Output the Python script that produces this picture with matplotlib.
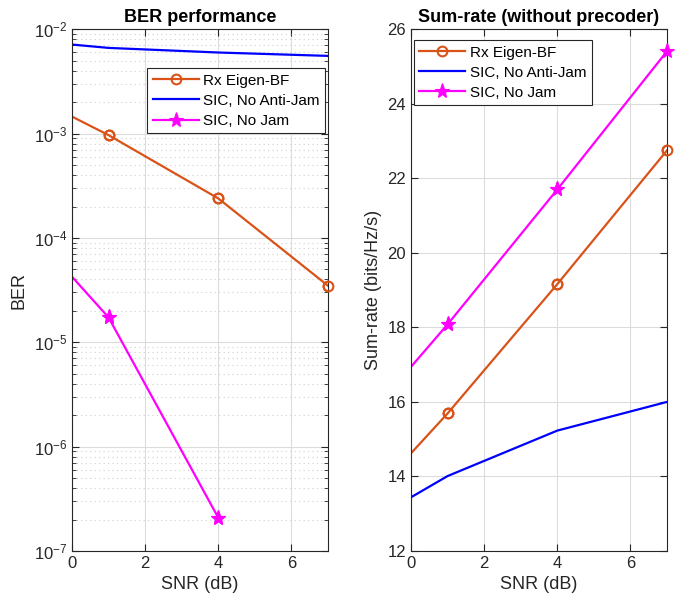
import numpy as np
import matplotlib
matplotlib.use("Agg")
import matplotlib.pyplot as plt

plt.rcParams['font.family'] = ['Liberation Sans', 'DejaVu Sans']
plt.rcParams['mathtext.fontset'] = 'custom'
plt.rcParams['mathtext.rm'] = 'Liberation Sans'
plt.rcParams['mathtext.it'] = 'Liberation Sans'

# SNR points (first point lies left of the visible axis)
snr = [-2, 1, 4, 7]

# BER values
ber_eigen = [3.30e-3, 9.66e-4, 2.39e-4, 3.48e-5]
ber_noanti = [8.26e-3, 6.62e-3, 5.98e-3, 5.55e-3]
ber_nojam = [2.56e-4, 1.73e-5, 2.08e-7, np.nan]

# sum-rate values
rate_eigen = [12.48, 15.69, 19.16, 22.75]
rate_noanti = [12.30, 14.01, 15.23, 16.00]
rate_nojam = [14.66, 18.08, 21.70, 25.41]

labels = ['Rx Eigen-BF', 'SIC, No Anti-Jam', 'SIC, No Jam']
c_orange = (0.85, 0.325, 0.098)
c_blue = '#0000ff'
c_mag = '#ff00ff'

fig = plt.figure(figsize=(6.81, 6.06), dpi=100)
ax1 = fig.add_axes([0.1057, 0.0908, 0.376, 0.861])
ax2 = fig.add_axes([0.6035, 0.0908, 0.376, 0.861])

circ = dict(marker='o', ms=7, mfc='none', mew=1.5)
star = dict(marker='*', ms=11, mew=0.8)


def draw(ax, y_eigen, y_noanti, y_nojam):
    ax.plot(snr, y_eigen, '-', color=c_orange, lw=1.6, label=labels[0], **circ)
    ax.plot(snr, y_noanti, '-', color=c_blue, lw=1.6, label=labels[1])
    ax.plot(snr, y_nojam, '-', color=c_mag, lw=1.6, label=labels[2], **star)
    # markers on the axes border should not be cut in half (MATLAB style)
    ax.plot(snr[1:], y_eigen[1:], ls='none', color=c_orange, clip_on=False, zorder=5, **circ)
    ax.plot(snr[1:], y_nojam[1:], ls='none', color=c_mag, clip_on=False, zorder=5, **star)


draw(ax1, ber_eigen, ber_noanti, ber_nojam)
draw(ax2, rate_eigen, rate_noanti, rate_nojam)

ax1.set_yscale('log')
ax1.set_xlim(0, 7)
ax1.set_ylim(1e-7, 1e-2)
ax2.set_xlim(0, 7)
ax2.set_ylim(12, 26)
ax2.set_yticks(range(12, 27, 2))

for ax in (ax1, ax2):
    ax.set_xticks([0, 2, 4, 6])
    ax.grid(True, which='major', color='#dcdcdc', lw=0.8)
    ax.tick_params(which='both', direction='in', top=True, right=True, labelsize=12, colors='#262626')
    ax.tick_params(which='major', length=5, width=0.8)
    for s in ax.spines.values():
        s.set_color('#262626')
        s.set_linewidth(0.8)
    ax.set_xlabel('SNR (dB)', fontsize=13, color='#262626')
    ax.set_axisbelow(True)

ax1.grid(True, which='minor', color='#cfcfcf', ls=(0, (1, 3)), lw=0.8)
ax1.tick_params(which='minor', length=3, width=0.6)

ax1.set_ylabel('BER', fontsize=13, color='#262626')
ax2.set_ylabel('Sum-rate (bits/Hz/s)', fontsize=13, color='#262626')
ax1.set_title('BER performance', fontsize=13, fontweight='bold', pad=5)
ax2.set_title('Sum-rate (without precoder)', fontsize=13, fontweight='bold', pad=5)

for ax, loc, anchor in ((ax1, 'upper right', (0.988, 0.925)), (ax2, 'upper left', (0.012, 0.979))):
    leg = ax.legend(loc=loc, bbox_to_anchor=anchor, fontsize=11, fancybox=False,
                    framealpha=1, edgecolor='#262626', handlelength=3.0,
                    borderpad=0.35, labelspacing=0.4, handletextpad=0.3, borderaxespad=0)
    leg.get_frame().set_linewidth(0.8)

fig.savefig('out.png', dpi=100)
